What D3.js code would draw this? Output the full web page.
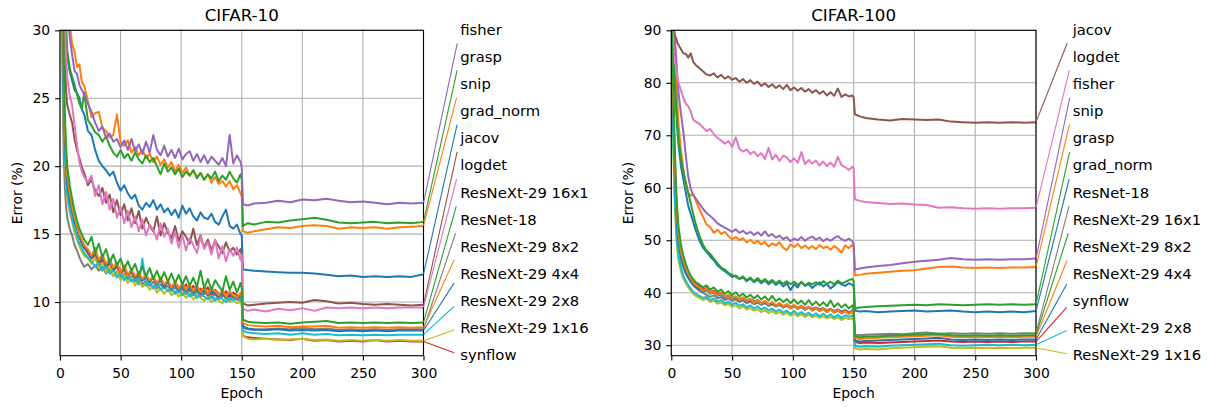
<!DOCTYPE html>
<html lang="en">
<head>
  <meta charset="UTF-8" />
  <title>CIFAR error curves</title>
  <script src="https://d3js.org/d3.v7.min.js"></script>
  <style>
    html, body { margin: 0; padding: 0; background: #ffffff; }
    svg { display: block; font-family: 'DejaVu Sans', sans-serif; }
    .grid line { stroke: #b0b0b0; stroke-width: 1.1px; }
    .tick text { font-size: 13.9px; fill: #000; }
    .tick line { stroke: #000; stroke-width: 1.1px; }
    .spine { fill: none; stroke: #000; stroke-width: 1.1px; }
    .curve { fill: none; stroke-width: 2px; stroke-linejoin: round; }
    .leader { stroke-width: 1.1px; }
    .lbl { font-size: 14.8px; fill: #000; }
  </style>
</head>
<body>
  <svg id="chart" width="1209" height="407"></svg>
  <script>
    // shared epoch grid (denser before the lr drop at 150)
    const epochs = [0,1,2,3,4,5,6,8,10,12,14,16,18,20,
      23,26,29,32,35,38,41,44,47,50,53,56,59,62,65,68,71,74,77,80,83,86,89,92,95,98,
      101,104,107,110,113,116,119,122,125,128,131,134,137,140,143,146,149,150,
      151,155,160,170,180,190,200,210,220,230,240,250,260,270,280,290,300];

    const names = ["grad_norm", "snip", "grasp", "synflow", "fisher", "jacov", "logdet",
      "ResNet-18", "ResNeXt-29 1x16", "ResNeXt-29 2x8", "ResNeXt-29 4x4", "ResNeXt-29 8x2", "ResNeXt-29 16x1"];

    const xTicks = [0, 50, 100, 150, 200, 250, 300];
    const yTicks10 = [10, 15, 20, 25, 30];
    const yTicks100 = [30, 40, 50, 60, 70, 80, 90];

    // label order on the right of each panel (top to bottom)
    const order10 = ["fisher", "grasp", "snip", "grad_norm", "jacov", "logdet", "ResNeXt-29 16x1",
      "ResNet-18", "ResNeXt-29 8x2", "ResNeXt-29 4x4", "ResNeXt-29 2x8", "ResNeXt-29 1x16", "synflow"];
    const order100 = ["jacov", "logdet", "fisher", "snip", "grasp", "grad_norm", "ResNet-18",
      "ResNeXt-29 16x1", "ResNeXt-29 8x2", "ResNeXt-29 4x4", "synflow", "ResNeXt-29 2x8", "ResNeXt-29 1x16"];

    // ---- CIFAR-10 ----
    const c10GradNorm = [80,60,45,37,32,29.5,28, 27.0,26.3,25.6,25.4,25.0,24.2,23.8,
      22.6,22.3,21.2,20.4,20.0,19.7,19.3,19.6,18.8,18.2,18.6,18.0,17.6,17.9,17.1,16.8,17.3,17.0,17.5,16.8,
      17.2,16.6,16.9,16.4,16.8,16.2,17.1,16.5,16.9,16.3,16.0,16.6,16.2,16.1,16.5,15.9,15.7,16.3,16.8,15.6,15.4,15.7,15.0, 14.9,
      12.4,12.35,12.3,12.25,12.2,12.15,12.15,12.1,12.0,11.9,11.95,11.85,11.9,11.85,11.9,11.85,12.05];
    const c10Snip = [90,75,60,50,42,37,33.5, 30.5,29.0,28.4,27.3,27.5,26.2,25.9,
      24.8,23.6,23.9,24.0,22.8,22.6,22.1,22.3,23.8,21.8,21.5,21.9,21.0,21.4,20.8,21.2,20.6,20.9,20.3,20.7,
      20.1,20.5,19.9,20.3,19.6,20.1,19.5,19.9,19.3,19.7,19.2,19.5,19.0,19.4,18.8,19.2,18.7,18.9,18.5,18.9,18.3,18.6,18.0, 17.8,
      15.2,15.1,15.2,15.35,15.5,15.45,15.6,15.65,15.6,15.4,15.5,15.45,15.5,15.4,15.5,15.55,15.6];
    const c10Grasp = [85,65,50,40,34,30.5,28.5, 27.2,26.6,26.0,25.3,24.6,24.2,25.4,
      23.4,23.0,22.5,22.3,21.8,22.2,21.5,21.0,20.7,21.2,20.6,20.9,20.4,21.0,20.5,20.2,20.8,20.3,20.6,20.0,
      19.4,20.2,19.6,19.9,19.4,19.8,19.2,19.6,19.3,19.7,19.1,19.5,19.0,19.4,19.1,19.6,18.9,19.3,19.0,19.6,19.1,18.8,19.4, 19.0,
      15.6,15.8,15.7,15.9,15.85,16.0,16.1,16.2,16.05,15.85,15.8,15.85,15.9,15.8,15.85,15.8,15.9];
    const c10Synflow = [70,45,32,25,21.8,19.8,18.6, 17.6,16.8,15.9,15.4,14.9,14.3,14.0,
      13.6,13.2,13.5,12.8,13.1,12.5,12.9,12.3,12.6,12.1,12.4,11.9,12.2,11.7,12.0,11.6,11.9,11.5,11.8,11.3,
      11.7,11.2,11.5,11.0,11.4,11.1,10.9,11.3,10.8,11.2,10.7,11.0,10.6,11.1,10.5,10.9,10.6,10.4,10.8,10.3,10.7,10.5,10.3, 10.2,
      7.5,7.4,7.35,7.3,7.25,7.2,7.3,7.15,7.2,7.1,7.15,7.1,7.2,7.1,7.15,7.1,7.1];
    const c10Fisher = [90,70,55,45,38,34,31.5, 29.5,28.2,27.0,26.8,26.0,25.6,25.3,
      24.6,24.0,23.2,22.6,22.9,22.1,22.4,21.8,22.0,21.4,21.9,21.2,22.0,21.1,21.6,20.9,21.8,21.0,22.3,21.2,
      20.8,21.5,20.7,21.2,20.6,21.3,20.5,20.9,21.1,20.4,20.9,20.3,20.8,20.2,20.7,20.4,20.1,20.6,20.0,22.3,20.2,20.8,20.3, 19.9,
      17.2,17.1,17.25,17.3,17.45,17.35,17.55,17.5,17.6,17.45,17.35,17.4,17.3,17.2,17.3,17.25,17.3];
    const c10Jacov = [80,55,40,32,28,25.5,24.5, 23.8,23.2,22.0,21.2,20.6,19.9,19.5,
      18.6,19.0,18.2,17.8,18.4,17.3,17.9,16.6,17.5,16.4,17.2,16.0,16.9,15.8,16.7,15.4,16.2,15.6,15.2,16.3,
      14.9,15.8,15.1,14.7,15.6,14.5,15.2,14.8,14.3,15.4,14.2,14.9,14.0,14.6,13.8,14.5,14.1,13.6,14.4,13.7,14.0,13.5,13.9, 13.4,
      9.9,9.75,9.8,9.9,9.95,10.0,9.95,10.15,10.05,9.9,9.95,9.85,9.8,9.85,9.8,9.75,9.8];
    const c10Logdet = [85,60,45,36,31,28,26.5, 25.2,24.5,23.0,21.6,20.3,19.6,19.2,
      18.8,19.3,17.8,18.6,17.2,18.1,16.8,17.6,16.2,17.0,15.8,16.7,15.5,16.3,15.2,16.1,14.9,15.7,15.3,14.6,
      15.8,14.8,15.4,14.3,15.2,14.0,14.9,13.8,14.7,14.2,13.6,14.8,13.9,14.4,13.5,14.6,13.2,14.1,13.0,13.9,13.4,14.0,13.1, 13.5,
      9.5,9.35,9.45,9.3,9.5,9.4,9.55,9.35,9.6,9.55,9.6,9.55,9.6,9.55,9.6,9.6,9.6];
    const c10ResNet18 = [60,38,27,21,18.5,17.0,16.2, 15.4,14.9,14.2,13.8,13.3,12.9,12.6,
      12.8,12.4,12.7,12.3,12.6,12.1,12.4,11.9,12.2,11.8,12.1,11.7,11.9,11.5,11.8,11.3,11.6,11.2,11.5,11.0,
      11.3,11.0,11.2,10.8,11.1,10.7,11.0,10.6,10.9,10.5,10.8,10.4,10.7,10.5,10.3,10.6,10.2,10.5,10.3,10.1,10.4,10.2,10.1, 10.0,
      8.1,8.0,7.95,8.0,8.05,8.0,8.1,8.0,8.05,7.95,8.0,7.95,8.0,7.95,8.0,8.0,8.0];
    const c10X1x16 = [65,42,30,24,20.5,18.8,17.6, 16.6,15.9,15.1,14.6,14.1,13.7,13.4,
      13.2,12.8,13.3,12.5,12.9,12.2,12.6,11.9,12.3,11.6,12.0,11.4,11.8,11.2,11.6,11.1,11.4,10.9,11.2,10.7,
      11.0,10.6,10.9,10.5,10.8,10.4,10.7,10.3,10.6,10.2,10.5,10.3,10.1,10.4,10.0,10.3,10.1,9.9,10.3,10.0,10.2,9.9,10.0, 9.9,
      7.5,7.3,7.25,7.3,7.2,7.25,7.3,7.2,7.25,7.15,7.2,7.15,7.2,7.15,7.2,7.15,7.15];
    const c10X2x8 = [68,44,31,24.5,21,19.2,18.0, 16.9,16.1,15.4,14.9,14.3,14.0,13.6,
      13.3,13.0,12.6,12.9,12.3,12.7,12.1,12.4,11.8,12.2,11.6,12.0,11.5,11.8,11.3,13.2,11.2,11.5,11.0,11.4,
      10.9,11.2,10.8,11.1,10.6,11.0,10.5,10.9,10.4,10.8,10.3,10.6,10.4,10.2,10.5,10.1,10.4,10.2,10.0,10.3,10.1,10.4,10.2, 10.0,
      7.9,7.75,7.7,7.65,7.7,7.6,7.7,7.6,7.65,7.55,7.6,7.55,7.6,7.55,7.6,7.6,7.6];
    const c10X4x4 = [70,46,33,26,22,20,18.7, 17.5,16.7,15.9,15.4,14.8,14.4,14.0,
      13.7,13.3,13.6,13.0,13.3,12.7,13.0,12.4,12.8,12.2,12.5,12.0,12.3,11.8,12.1,11.6,11.9,11.5,11.8,11.3,
      11.6,11.1,11.5,11.0,11.3,10.9,11.2,10.8,11.1,10.7,11.0,10.6,10.9,10.5,10.8,10.6,10.4,10.7,10.3,10.6,10.4,10.2,10.5, 10.3,
      8.2,8.05,8.0,7.95,8.0,7.9,7.95,7.9,7.95,7.85,7.9,7.85,7.9,7.85,7.9,7.9,7.9];
    const c10X8x2 = [72,48,34,27,23,20.8,19.3, 18.0,17.0,16.2,15.6,15.0,14.6,14.2,
      13.9,13.4,14.0,13.1,13.5,12.8,13.2,12.5,12.9,12.2,12.7,12.0,12.4,11.9,12.2,11.7,12.0,11.6,11.9,11.4,
      11.8,11.3,11.6,11.1,11.5,11.0,11.4,10.9,11.3,10.8,11.2,10.7,11.1,10.6,11.0,10.8,10.5,10.9,10.4,10.8,10.5,10.3,10.7, 10.4,
      8.45,8.3,8.25,8.2,8.25,8.15,8.2,8.2,8.25,8.1,8.15,8.1,8.15,8.1,8.15,8.1,8.15];
    const c10X16x1 = [75,50,36,28,24,21.5,20, 18.6,17.6,16.7,16.0,15.4,15.0,14.6,
      14.2,14.8,13.6,14.3,13.3,13.9,12.9,13.5,12.7,13.2,12.4,13.0,12.3,12.8,12.0,12.6,11.9,12.5,11.7,12.3,
      11.6,12.2,11.5,12.1,11.4,12.0,11.3,11.9,11.2,11.8,11.1,12.3,11.0,11.7,10.9,11.6,11.2,10.8,11.9,10.9,11.5,10.7,11.4, 11.0,
      8.7,8.55,8.5,8.45,8.5,8.4,8.5,8.55,8.6,8.45,8.5,8.45,8.5,8.45,8.5,8.45,8.5];

    // ---- CIFAR-100 ----
    const c100GradNorm = [95,90,84,79,75,71,68, 64,61.5,59,56.5,55,53.5,52,
      50.0,48.6,47.8,46.9,46.2,45.2,44.6,44.1,43.6,43.0,43.3,42.6,42.9,42.2,42.7,42.0,42.5,41.8,42.4,41.6,
      42.2,41.5,42.0,41.2,41.8,40.5,41.6,41.0,42.1,41.3,41.7,40.9,41.5,42.0,41.2,41.7,40.8,41.4,42.0,41.6,41.3,41.8,41.5, 41.2,
      36.6,36.4,36.5,36.3,36.4,36.5,36.6,36.4,36.5,36.6,36.4,36.3,36.4,36.3,36.4,36.3,36.5];
    const c100Snip = [95,92,88,84,80,76,72, 67,63.5,60.5,59.0,58.5,58.8,57.6,
      56.0,54.5,53.0,52.5,51.4,52.0,51.2,51.6,50.8,50.2,50.6,50.0,50.4,49.6,50.1,49.4,49.9,49.2,49.7,48.8,
      49.4,49.0,49.6,48.6,48.1,49.2,48.7,49.3,48.5,49.0,48.4,48.9,48.3,49.1,48.5,48.8,48.2,48.9,48.4,47.6,49.0,48.5,49.2, 48.6,
      43.3,43.4,43.6,43.8,44.0,44.2,44.3,44.6,44.9,45.0,44.8,44.7,44.8,44.7,44.8,44.8,44.9];
    const c100Grasp = [95,90,85,80,76,72,69, 65.5,63,61,59,57,55,53.2,
      51.0,49.2,48.0,47.4,46.5,45.6,44.8,44.4,43.8,43.4,43.0,42.7,43.1,42.4,42.9,42.2,42.8,42.1,42.6,42.0,
      42.4,41.8,42.3,41.7,42.2,41.6,42.1,41.5,42.0,41.4,41.9,41.6,42.0,41.5,42.2,41.7,42.1,41.6,42.3,41.8,42.0,42.4,42.6, 42.2,
      37.0,37.2,37.3,37.4,37.5,37.6,37.7,37.6,37.8,37.7,37.6,37.7,37.8,37.7,37.8,37.7,37.8];
    const c100Synflow = [92,82,72,64,58,53.5,50.5, 47.5,45.6,44.5,43.6,42.8,42.2,41.7,
      41.2,40.6,40.9,40.1,40.4,39.7,40.0,39.3,39.6,39.0,39.3,38.7,39.1,38.5,38.8,38.3,38.6,38.0,38.4,37.8,
      38.2,37.6,38.0,37.4,37.8,37.3,37.6,37.1,37.5,37.0,37.3,36.9,37.2,36.8,37.1,36.6,36.9,36.5,36.8,36.4,36.7,36.3,36.5, 36.2,
      30.6,30.4,30.5,30.4,30.5,30.6,30.7,30.8,30.9,30.7,30.6,30.7,30.6,30.7,30.6,30.7,30.7];
    const c100Fisher = [95,93,91,88,85,81,78, 74,70.5,66,62,59.8,58.6,58.0,
      57.0,56.0,55.2,54.6,54.0,53.2,52.8,52.4,52.0,51.6,52.1,51.4,51.8,51.2,51.6,51.0,51.5,50.9,51.7,50.8,
      51.2,50.5,50.9,50.2,50.6,49.8,50.3,50.0,50.6,49.9,50.4,50.7,50.1,50.5,49.8,50.3,49.9,50.4,50.8,50.2,49.9,50.3,49.8, 49.4,
      44.4,44.6,44.8,45.1,45.3,45.6,45.9,46.1,46.3,46.6,46.4,46.3,46.4,46.3,46.4,46.4,46.5];
    const c100Jacov = [98,94,90,89,88.5,87.6,87.2, 86.4,85.6,85.5,84.8,85.6,84.0,83.4,
      82.8,82.2,81.6,81.4,81.8,81.0,81.5,80.8,81.2,80.6,80.9,80.2,80.7,80.0,80.5,79.8,80.2,79.4,79.9,79.2,
      79.7,79.0,79.5,78.8,79.6,78.6,79.1,78.5,79.0,78.3,78.8,78.1,78.6,77.9,78.4,77.6,78.2,77.5,78.9,77.3,77.8,77.4,77.6, 77.2,
      74.0,73.6,73.3,73.0,72.8,73.1,73.0,72.9,73.0,72.6,72.5,72.4,72.5,72.4,72.5,72.4,72.5];
    const c100Logdet = [95,90,86,84,82.5,81,80, 78.5,77,76,75.5,74.5,73,72.6,
      72.2,71.5,70.8,71.2,70.2,69.5,69.0,68.4,68.9,67.8,69.6,67.4,66.9,67.3,66.4,66.9,66.0,66.6,65.5,67.6,
      65.4,66.3,65.1,66.1,65.8,64.9,65.6,64.8,66.8,64.5,65.3,64.6,65.2,64.2,65.0,64.1,64.8,64.0,65.9,64.3,63.9,63.4,64.0, 63.6,
      57.8,57.5,57.3,57.1,56.9,57.0,56.8,56.7,56.2,56.3,56.1,56.0,56.1,56.0,56.1,56.1,56.2];
    const c100ResNet18 = [90,78,68,60,55,51.5,49, 46.4,44.8,43.6,42.8,42.0,41.4,41.0,
      40.4,40.0,39.6,39.2,39.5,38.9,39.2,38.6,38.9,38.4,38.7,38.2,38.5,38.0,38.3,37.8,38.1,37.7,38.0,37.5,
      37.8,37.4,37.7,37.2,37.5,37.1,37.4,37.0,37.3,36.9,37.2,36.8,37.1,36.7,37.0,36.6,36.9,36.5,36.8,36.4,36.7,36.3,36.6, 37.6,
      32.0,31.9,32.0,32.1,32.2,32.1,32.3,32.4,32.2,32.3,32.2,32.3,32.2,32.3,32.2,32.3,32.3];
    const c100X1x16 = [88,74,64,56,51,48,46, 44.0,42.6,41.8,41.0,40.4,39.8,39.4,
      39.0,38.6,38.9,38.2,38.5,37.9,38.2,37.6,37.9,37.3,37.6,37.0,37.4,36.8,37.1,36.6,36.9,36.3,36.7,36.1,
      36.5,36.0,36.3,35.8,36.2,35.6,36.0,35.5,35.9,35.4,35.8,35.3,35.6,35.2,35.5,35.1,35.4,35.0,35.3,34.8,35.2,35.0,35.1, 35.0,
      29.4,29.2,29.3,29.2,29.4,29.5,29.6,29.7,29.8,29.5,29.4,29.5,29.4,29.5,29.4,29.5,29.5];
    const c100X2x8 = [90,77,66,58,52.5,49,47, 44.8,43.2,42.2,41.4,40.8,40.2,39.8,
      39.4,39.0,39.2,38.6,38.9,38.3,38.6,38.0,38.3,37.7,38.1,37.5,37.8,37.2,37.6,37.0,37.4,36.8,37.2,36.6,
      37.0,36.4,36.8,36.2,36.6,36.0,36.5,35.9,36.3,35.8,36.2,35.6,36.1,35.5,36.0,35.4,35.9,35.3,35.8,35.2,35.7,35.4,35.6, 35.5,
      29.9,29.7,29.8,29.7,29.9,30.0,30.1,30.2,30.3,30.0,29.9,30.0,30.1,30.0,30.1,30.0,30.1];
    const c100X4x4 = [92,80,70,62,56,52,49.5, 46.8,45.0,43.8,42.9,42.2,41.6,41.1,
      40.7,40.2,40.5,39.8,40.1,39.4,39.7,39.0,39.4,38.8,39.1,38.5,38.9,38.3,38.6,38.1,38.4,37.8,38.2,37.6,
      38.0,37.4,37.8,37.2,37.6,37.0,37.5,36.9,37.3,36.7,37.2,36.6,37.0,36.5,36.9,36.3,36.8,36.2,36.6,36.1,36.5,36.0,36.4, 36.3,
      30.9,30.7,30.8,30.9,31.0,31.1,31.2,31.3,31.4,31.1,31.0,31.1,31.0,31.1,31.0,31.1,31.1];
    const c100X8x2 = [93,83,73,64,58,54,51, 47.8,46.0,44.6,43.6,42.8,42.0,41.5,
      41.0,40.4,40.8,39.9,40.3,39.5,39.9,39.2,39.6,38.9,39.3,38.6,39.0,38.4,38.8,38.1,38.6,37.9,38.4,37.7,
      38.2,37.5,38.0,37.3,37.8,37.1,37.6,36.9,37.5,36.8,37.3,36.6,37.1,36.5,37.0,36.3,36.8,36.2,36.7,36.0,36.5,35.9,36.4, 36.2,
      31.4,31.2,31.3,31.4,31.5,31.6,31.7,31.8,31.9,31.6,31.5,31.6,31.5,31.6,31.5,31.6,31.6];
    const c100X16x1 = [94,85,76,67,60,55.5,52.5, 49.0,47.0,45.4,44.2,43.2,42.6,42.0,
      41.6,41.0,41.4,40.6,41.0,40.2,40.6,39.8,40.3,39.5,40.1,39.3,39.8,39.1,39.6,38.9,39.5,38.7,39.3,38.5,
      39.4,38.4,38.9,38.2,38.8,38.0,38.7,37.9,38.5,37.7,38.6,37.6,38.3,37.5,38.2,37.4,38.5,37.3,38.0,37.2,37.8,37.0,37.6, 37.4,
      31.7,31.5,31.6,31.7,31.8,31.9,32.0,32.1,32.2,31.9,31.8,31.9,31.8,31.9,31.8,31.9,31.9];

    const series10 = [c10GradNorm, c10Snip, c10Grasp, c10Synflow, c10Fisher, c10Jacov, c10Logdet,
      c10ResNet18, c10X1x16, c10X2x8, c10X4x4, c10X8x2, c10X16x1];
    const series100 = [c100GradNorm, c100Snip, c100Grasp, c100Synflow, c100Fisher, c100Jacov, c100Logdet,
      c100ResNet18, c100X1x16, c100X2x8, c100X4x4, c100X8x2, c100X16x1];

    series10.concat(series100).forEach((s, i) => {
      if (s.length !== epochs.length) console.error("length mismatch", i, s.length);
    });

    const color = d3.scaleOrdinal(names, d3.schemeCategory10.concat(d3.schemeCategory10));
    const svg = d3.select("#chart");

    function drawPanel(cfg) {
      const { left, right, top, bottom } = cfg;
      const x = d3.scaleLinear().domain([0, 300]).range([left, right]);
      const y = d3.scaleLinear().domain(cfg.yDomain).range([bottom, top]);
      const g = svg.append("g");

      // grid
      const grid = g.append("g").attr("class", "grid");
      grid.selectAll(".gx").data(xTicks).join("line")
        .attr("x1", d => x(d)).attr("x2", d => x(d)).attr("y1", top).attr("y2", bottom);
      grid.selectAll(".gy").data(cfg.yTicks).join("line")
        .attr("x1", left).attr("x2", right).attr("y1", d => y(d)).attr("y2", d => y(d));

      // curves
      const clipId = "clip-" + cfg.id;
      svg.append("clipPath").attr("id", clipId).append("rect")
        .attr("x", left).attr("y", top).attr("width", right - left).attr("height", bottom - top);
      const line = d3.line().x((d, i) => x(epochs[i])).y(d => y(d));
      g.append("g").attr("clip-path", `url(#${clipId})`)
        .selectAll("path").data(cfg.series).join("path")
        .attr("class", "curve")
        .attr("stroke", (d, i) => color(names[i]))
        .attr("d", line);

      // axes
      g.append("g").attr("transform", `translate(0,${bottom})`)
        .call(d3.axisBottom(x).tickValues(xTicks).tickSize(4.9).tickPadding(7.5))
        .call(a => a.select(".domain").remove());
      g.append("g").attr("transform", `translate(${left},0)`)
        .call(d3.axisLeft(y).tickValues(cfg.yTicks).tickSize(4.9).tickPadding(5))
        .call(a => a.select(".domain").remove());
      g.selectAll(".tick text").attr("font-family", "DejaVu Sans");
      g.append("rect").attr("class", "spine")
        .attr("x", left).attr("y", top).attr("width", right - left).attr("height", bottom - top);

      // titles
      g.append("text").attr("x", (left + right) / 2).attr("y", 21)
        .attr("text-anchor", "middle").attr("font-size", 16.7).text(cfg.title);
      g.append("text").attr("x", (left + right) / 2).attr("y", 398)
        .attr("text-anchor", "middle").attr("font-size", 13.9).text("Epoch");
      g.append("text").attr("transform", `translate(${left - 38},${(top + bottom) / 2}) rotate(-90)`)
        .attr("text-anchor", "middle").attr("font-size", 13.9).text("Error (%)");

      // end labels with leader lines
      const lx = right + 36.7;
      const pad = 6, half = 14;
      cfg.order.forEach((name, k) => {
        const idx = names.indexOf(name);
        const s = cfg.series[idx];
        const ly = 29.3 + k * 27.14;
        const x0 = x(300), y0 = y(s[s.length - 1]);
        let t = (lx - pad - x0) / (lx - x0);
        if (y0 > ly + half) t = Math.max(t, (y0 - ly - half) / (y0 - ly));
        if (y0 < ly - half) t = Math.max(t, (ly - half - y0) / (ly - y0));
        g.append("line").attr("class", "leader")
          .attr("stroke", color(name))
          .attr("x1", x0).attr("y1", y0)
          .attr("x2", x0 + t * (lx - x0)).attr("y2", y0 + t * (ly - y0));
        g.append("text").attr("class", "lbl").attr("x", lx).attr("y", ly + 5.4).text(name);
      });
    }

    drawPanel({ id: "c10", title: "CIFAR-10", left: 60, right: 423.5, top: 30.3, bottom: 355.7,
      yDomain: [6.05, 30], yTicks: yTicks10, series: series10, order: order10 });
    drawPanel({ id: "c100", title: "CIFAR-100", left: 671.3, right: 1036, top: 30.3, bottom: 355.7,
      yDomain: [28, 90], yTicks: yTicks100, series: series100, order: order100 });
  </script>
</body>
</html>
